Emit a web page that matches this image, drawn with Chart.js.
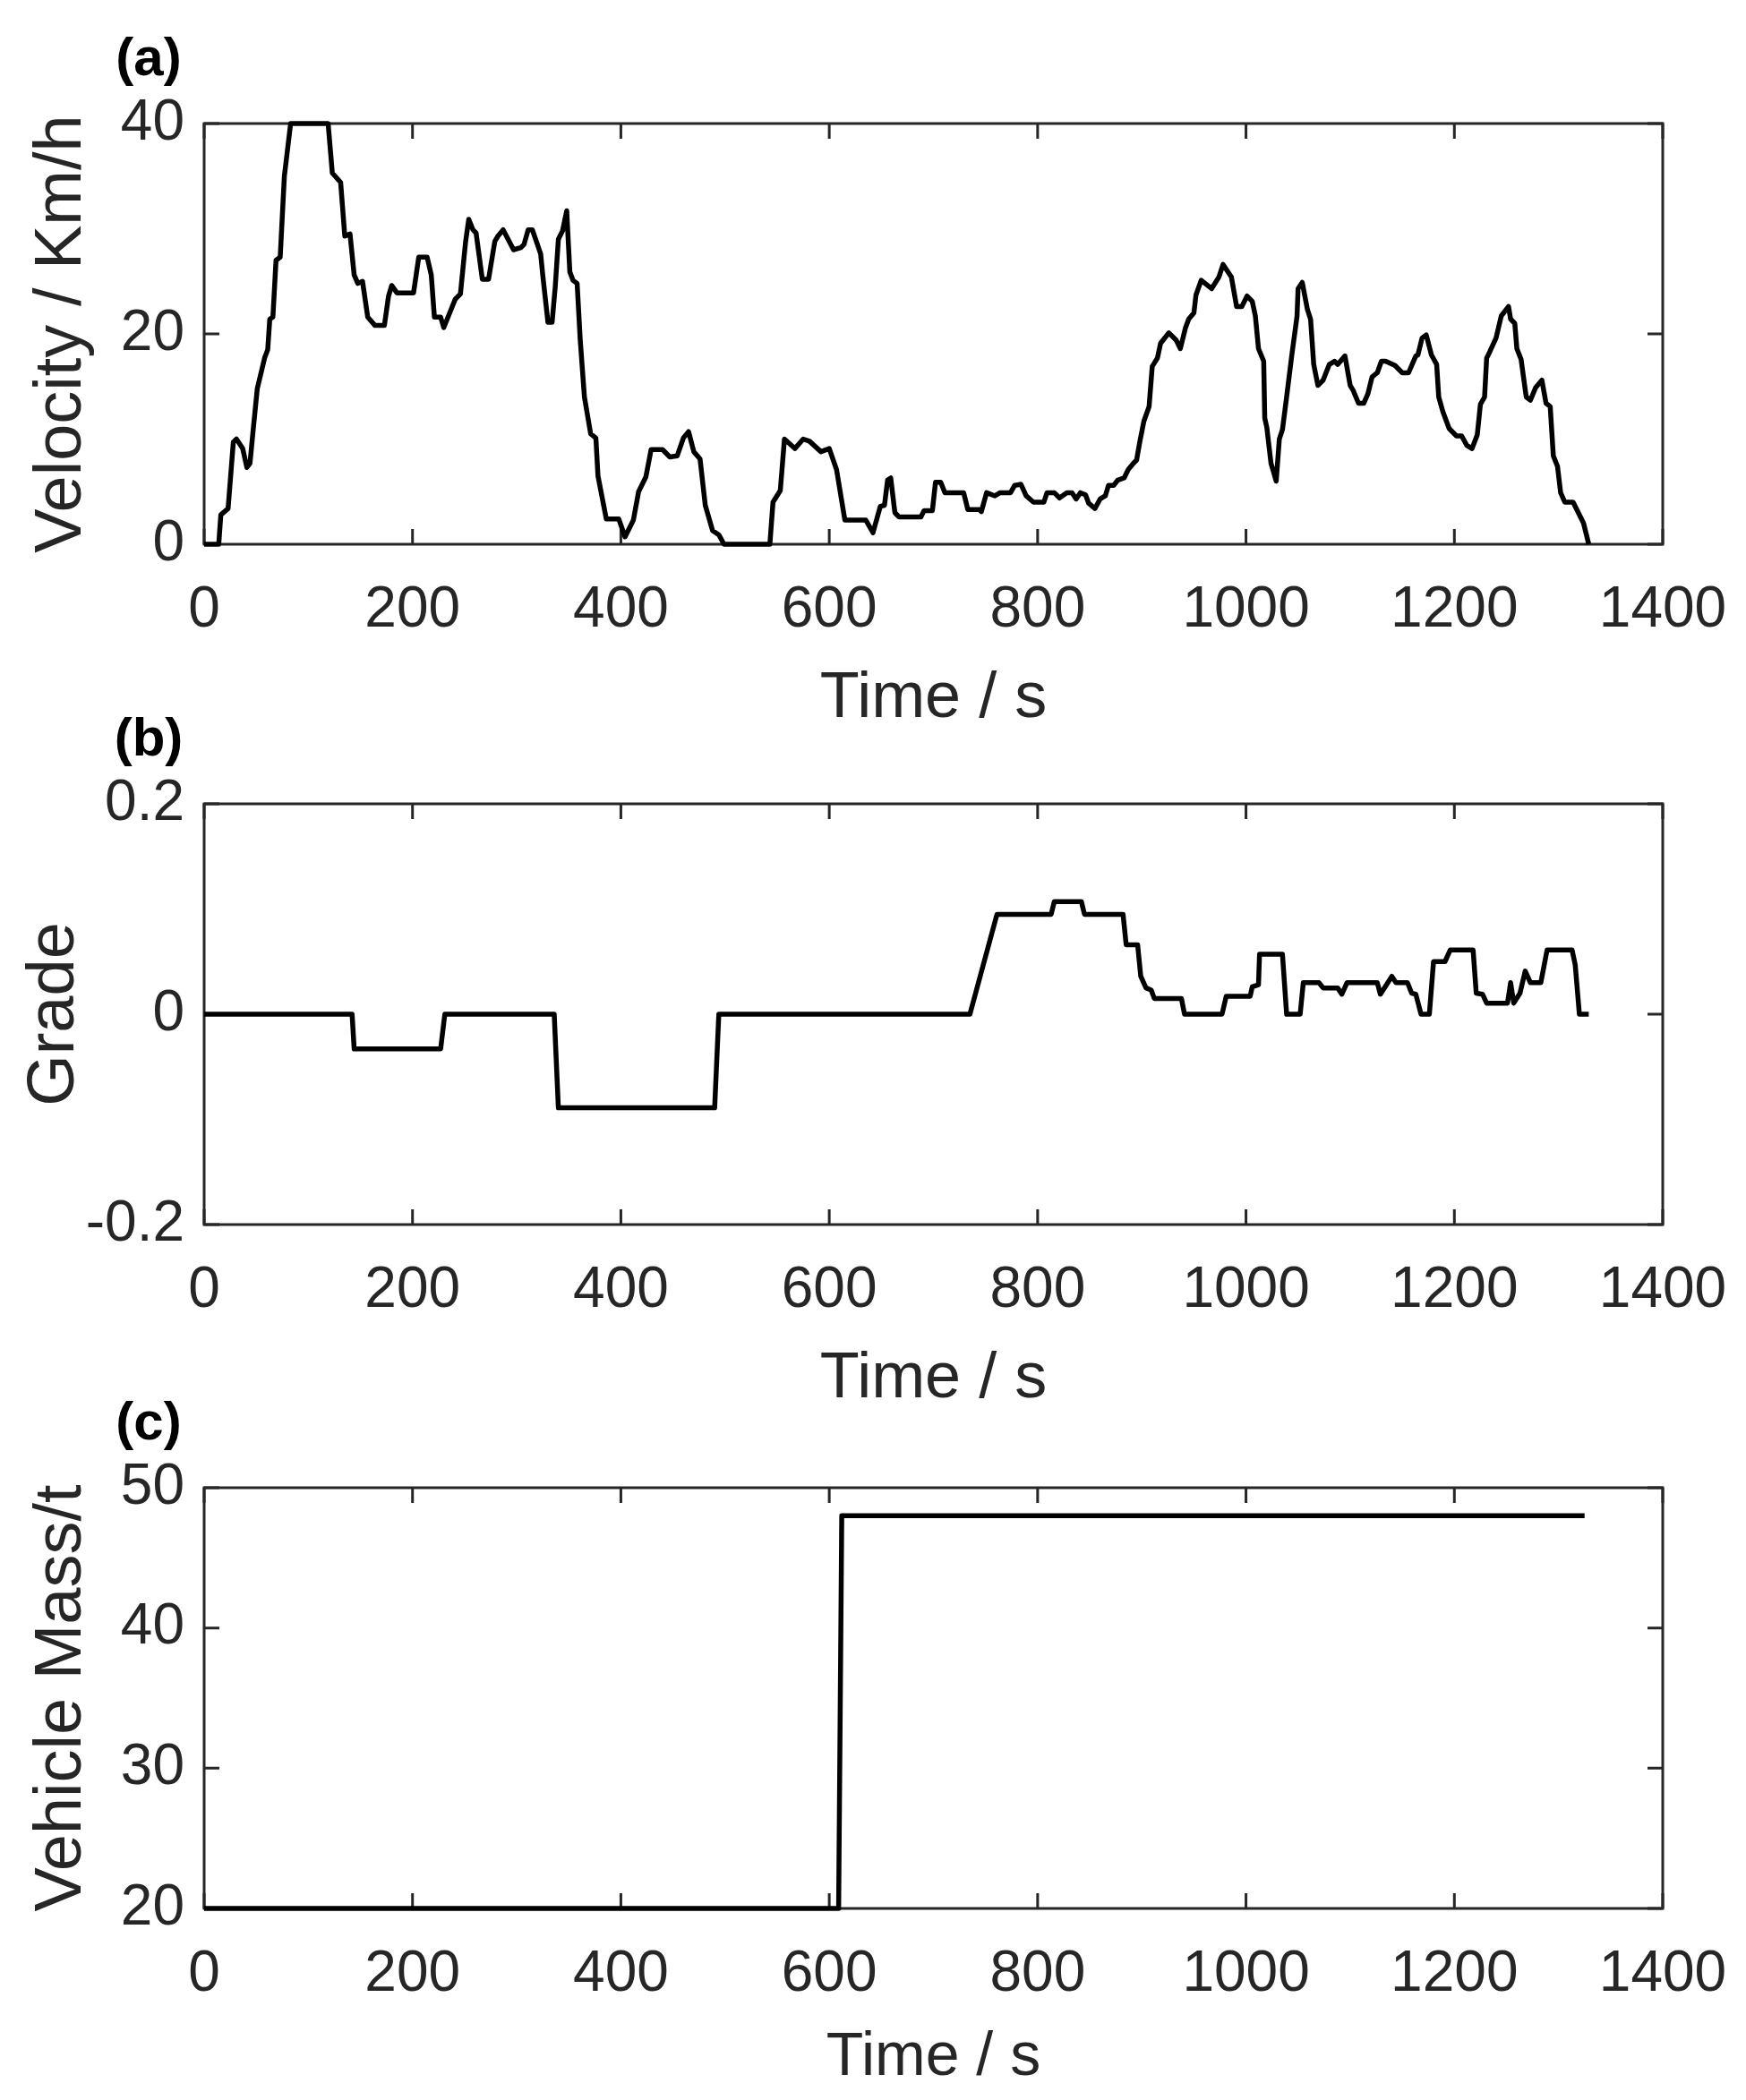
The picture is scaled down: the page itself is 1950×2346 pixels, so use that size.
<!DOCTYPE html>
<html>
<head>
<meta charset="utf-8">
<script src="https://cdn.jsdelivr.net/npm/chart.js@4.4.1/dist/chart.umd.min.js"></script>
<style>
  html, body { margin: 0; padding: 0; background: #fff; }
  body { width: 1950px; height: 2346px; position: relative; overflow: hidden; }
  canvas { position: absolute; left: 0; }
</style>
</head>
<body>
<canvas id="chartA" width="1950" height="830" style="top:0px"></canvas>
<canvas id="chartB" width="1950" height="830" style="top:760px"></canvas>
<canvas id="chartC" width="1950" height="822" style="top:1524px"></canvas>
<script>
// ---- data ----
const timeTicks = [0, 200, 400, 600, 800, 1000, 1200, 1400];

// (a) velocity profile, km/h
const velocityTime = [
  0, 14, 16, 23, 28, 31, 37, 41, 44, 47,
  51, 58, 61, 63, 66, 69, 73, 77, 83, 119,
  123, 131, 135, 140, 144, 147.5, 152, 157, 164, 173,
  177, 180, 185, 201, 206, 214, 218, 221, 227, 230,
  241, 246, 251, 254, 258, 261, 267, 273, 279, 282,
  287, 297, 304, 307, 311, 315, 323, 325, 330, 334,
  337, 340, 344, 348, 351, 354, 358, 361, 365, 371,
  376, 378, 386, 398, 404, 412, 417, 424, 429, 440,
  447, 454, 460, 465, 470, 476, 481, 488, 494, 499,
  543, 546, 553, 557, 567, 575, 581, 592, 600, 607,
  615, 635, 642, 649, 653, 656, 659, 663, 667, 688,
  691, 699, 702, 707, 711, 729, 733, 744, 746, 751,
  759, 764, 774, 778, 784, 789, 796, 806, 809, 816,
  821, 828, 833, 837, 841, 846, 849, 855, 860, 865,
  868, 873, 877, 883, 887, 892, 895, 898, 902, 907,
  910, 915, 918, 926, 933, 937, 942, 945, 950, 952,
  957, 967, 974, 978, 986, 991, 996, 1001, 1006, 1009,
  1012, 1017, 1018, 1020, 1024, 1029, 1032, 1035, 1039, 1044,
  1049, 1050, 1054, 1059, 1062, 1065, 1069, 1074, 1080, 1085,
  1088, 1095, 1100, 1103, 1108, 1113, 1117, 1121, 1126, 1130,
  1134, 1143, 1150, 1156, 1163, 1165, 1169, 1173, 1178, 1183,
  1185, 1189, 1195, 1202, 1207, 1212, 1217, 1222, 1225, 1229,
  1231, 1234, 1240, 1245, 1252, 1254, 1258, 1260, 1264, 1269,
  1273, 1278, 1284, 1288, 1292, 1295, 1299, 1302, 1306, 1314,
  1319, 1324, 1329
];
const velocity = [
  0, 0, 2.8, 3.4, 9.7, 10, 9.1, 7.3, 7.7, 10.8,
  14.8, 17.7, 18.5, 21.4, 21.6, 27, 27.3, 35, 40, 40,
  35.3, 34.4, 29.3, 29.5, 25.6, 24.8, 25, 21.6, 20.8, 20.8,
  23.6, 24.6, 23.9, 23.9, 27.3, 27.3, 25.6, 21.6, 21.6, 20.6,
  23.3, 23.8, 28.8, 30.9, 29.9, 29.6, 25.2, 25.2, 28.8, 29.3,
  29.9, 28, 28.2, 28.5, 29.9, 29.9, 27.6, 25.6, 21.1, 21.1,
  24.5, 29, 29.8, 31.7, 25.9, 25.1, 24.8, 19.4, 14, 10.5,
  10.1, 6.5, 2.4, 2.4, 0.7, 2.3, 5, 6.4, 9, 9,
  8.3, 8.4, 10.1, 10.7, 8.8, 8.1, 3.7, 1.3, 0.9, 0,
  0, 4, 5.1, 10, 9.1, 10, 9.8, 8.8, 9.1, 7.1,
  2.3, 2.3, 1.1, 3.6, 3.7, 6.1, 6.3, 3, 2.6, 2.6,
  3.2, 3.2, 5.9, 5.9, 4.9, 4.9, 3.3, 3.3, 3.1, 4.9,
  4.6, 4.9, 4.9, 5.6, 5.7, 4.6, 4, 4, 4.9, 4.9,
  4.4, 4.9, 4.9, 4.3, 4.9, 4.7, 3.9, 3.4, 4.3, 4.6,
  5.6, 5.6, 6.1, 6.3, 7.1, 7.7, 8, 9.7, 11.7, 13.1,
  16.9, 17.7, 19.1, 20.1, 19.4, 18.6, 20.6, 21.4, 22, 23.7,
  25.1, 24.3, 25.4, 26.6, 25.4, 22.6, 22.6, 23.6, 23.1, 21.7,
  18.6, 17.4, 12, 11.1, 7.7, 6, 10, 10.9, 14, 18,
  21.7, 24.3, 24.9, 22.3, 21.4, 17.1, 15.1, 15.6, 17.1, 17.4,
  17.1, 17.9, 15.1, 14.6, 13.4, 13.4, 14.3, 15.9, 16.3, 17.4,
  17.4, 17, 16.3, 16.3, 17.9, 18, 19.6, 19.9, 18, 17.1,
  14, 12.6, 11, 10.3, 10.3, 9.4, 9.1, 10.4, 13.3, 14,
  17.7, 18.3, 19.6, 21.7, 22.6, 21.4, 21, 18.6, 17.6, 14,
  13.7, 14.9, 15.6, 13.4, 13.1, 8.4, 7.4, 4.9, 4, 4,
  3, 2, 0
];
const velocityTicks = [0, 20, 40];

// (b) road grade
const gradeTime = [
  0, 142, 144, 227, 231, 336, 340, 490, 494, 735,
  761, 813, 816, 842, 845, 882, 885, 896, 899, 904,
  909, 912, 938, 941, 977, 981, 1004, 1006, 1012, 1013,
  1035, 1039, 1052, 1055, 1070, 1074, 1088, 1092, 1097, 1126,
  1129, 1140, 1144, 1155, 1159, 1163, 1168, 1176, 1180, 1191,
  1196, 1218, 1221, 1227, 1231, 1251, 1254, 1257, 1263, 1268,
  1273, 1283, 1289, 1313, 1316, 1320, 1329
];
const grade = [
  0, 0, -0.033, -0.033, 0, 0, -0.089, -0.089, 0, 0,
  0.095, 0.095, 0.107, 0.107, 0.095, 0.095, 0.066, 0.066, 0.036, 0.025,
  0.023, 0.015, 0.015, 0, 0, 0.017, 0.017, 0.026, 0.028, 0.057,
  0.057, 0, 0, 0.03, 0.03, 0.025, 0.025, 0.019, 0.03, 0.03,
  0.019, 0.036, 0.03, 0.03, 0.02, 0.019, 0, 0, 0.05, 0.05,
  0.061, 0.061, 0.02, 0.019, 0.0105, 0.0105, 0.03, 0.0105, 0.02, 0.041,
  0.03, 0.03, 0.061, 0.061, 0.047, 0, 0
];
const gradeTicks = [-0.2, 0, 0.2];
const gradeTickLabels = ['-0.2', '0', '0.2'];

// (c) vehicle mass, t
const massTime = [0, 609, 612, 1325];
const mass = [20, 20, 48, 48];
const massTicks = [20, 30, 40, 50];

// ---- shared styling ----
const FONT = '"Liberation Sans", Arial, Helvetica, sans-serif';
const AXIS_COLOR = '#262626';

// box around the plot + inward ticks on all four sides, panel letter
const framePlugin = {
  id: 'frame',
  beforeDatasetsDraw(chart) {
    const { ctx, chartArea: a, scales } = chart;
    const len = 17;
    ctx.save();
    ctx.strokeStyle = AXIS_COLOR;
    ctx.lineWidth = 3;
    ctx.beginPath();
    scales.x.ticks.forEach(t => {
      const px = scales.x.getPixelForValue(t.value);
      ctx.moveTo(px, a.bottom); ctx.lineTo(px, a.bottom - len);
      ctx.moveTo(px, a.top); ctx.lineTo(px, a.top + len);
    });
    scales.y.ticks.forEach(t => {
      const py = scales.y.getPixelForValue(t.value);
      ctx.moveTo(a.left, py); ctx.lineTo(a.left + len, py);
      ctx.moveTo(a.right, py); ctx.lineTo(a.right - len, py);
    });
    ctx.stroke();
    ctx.strokeRect(a.left, a.top, a.right - a.left, a.bottom - a.top);
    ctx.restore();
  },
  afterDraw(chart, args, opts) {
    const ctx = chart.ctx;
    ctx.save();
    ctx.fillStyle = '#000';
    ctx.font = 'bold 60px ' + FONT;
    ctx.textAlign = 'center';
    ctx.textBaseline = 'middle';
    ctx.fillText(opts.label, 166, 67);
    ctx.restore();
  }
};

function points(xs, ys) {
  return xs.map((x, i) => ({ x: x, y: ys[i] }));
}

function makePanel(id, cfg) {
  const canvas = document.getElementById(id);
  return new Chart(canvas.getContext('2d'), {
    type: 'line',
    data: {
      datasets: [{
        data: points(cfg.xs, cfg.ys),
        borderColor: '#000',
        borderWidth: 5.5,
        borderJoinStyle: 'round',
        pointRadius: 0,
        tension: 0,
        fill: false,
        clip: false
      }]
    },
    options: {
      responsive: false,
      devicePixelRatio: 1,
      animation: false,
      events: [],
      layout: { padding: { top: 138, right: 93, left: 0, bottom: 0 } },
      plugins: {
        legend: { display: false },
        tooltip: { enabled: false },
        frame: { label: cfg.label }
      },
      scales: {
        x: {
          type: 'linear',
          min: 0,
          max: 1400,
          // tick marks are drawn by the plugin; tickLength only spaces the labels
          grid: { display: false, drawTicks: true, tickLength: 36 },
          border: { display: false },
          afterBuildTicks: s => { s.ticks = timeTicks.map(v => ({ value: v })); },
          afterFit: s => { s.height = canvas.height - 608; },
          ticks: {
            color: AXIS_COLOR,
            padding: 0,
            maxRotation: 0,
            font: { family: FONT, size: 64 },
            callback: v => String(v)
          },
          title: {
            display: true,
            text: 'Time / s',
            color: AXIS_COLOR,
            padding: { top: 0, bottom: 6 },
            font: { family: FONT, size: cfg.xTitleSize || 72 }
          }
        },
        y: {
          type: 'linear',
          min: cfg.yTicks[0],
          max: cfg.yTicks[cfg.yTicks.length - 1],
          grid: { display: false, drawTicks: false },
          border: { display: false },
          afterBuildTicks: s => { s.ticks = cfg.yTicks.map(v => ({ value: v })); },
          afterFit: s => { s.width = 228; },
          ticks: {
            color: AXIS_COLOR,
            padding: 22,
            font: { family: FONT, size: 64 },
            callback: (v, i) => cfg.yLabels ? cfg.yLabels[i] : String(v)
          },
          title: {
            display: true,
            text: cfg.yTitle,
            color: AXIS_COLOR,
            padding: { top: cfg.yTitlePad, bottom: 0 },
            font: { family: FONT, size: cfg.yTitleSize || 74 }
          }
        }
      }
    },
    plugins: [framePlugin]
  });
}

makePanel('chartA', {
  label: '(a)', xs: velocityTime, ys: velocity,
  yTicks: velocityTicks, yTitle: 'Velocity / Km/h', yTitlePad: 25
});
makePanel('chartB', {
  label: '(b)', xs: gradeTime, ys: grade,
  yTicks: gradeTicks, yLabels: gradeTickLabels, yTitle: 'Grade', yTitlePad: 17
});
makePanel('chartC', {
  label: '(c)', xs: massTime, ys: mass,
  yTicks: massTicks, yTitle: 'Vehicle Mass/t', yTitlePad: 25, xTitleSize: 68
});
</script>
</body>
</html>
